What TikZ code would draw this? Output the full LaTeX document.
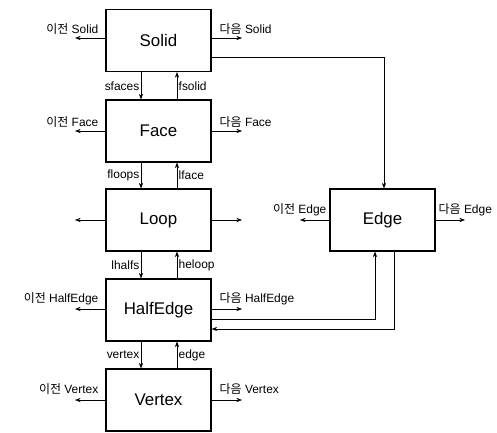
\documentclass[tikz,border=0pt]{standalone}
\usepackage{fontspec}
\setmainfont{Liberation Sans}
\newfontfamily\kr{Noto Sans CJK KR}
\usetikzlibrary{calc,arrows.meta}
\tikzset{
  block/.style={draw,thick,minimum width=2.625cm,minimum height=1.55cm,font=\fontsize{12}{14}\selectfont},
  lbl/.style={font=\fontsize{8.5}{10}\selectfont,inner sep=1pt},
  arr/.style={-{Stealth[length=4pt,width=3pt]},thin},
}
\begin{document}
\begin{tikzpicture}[x=0.025cm,y=-0.025cm]
	\useasboundingbox (0,0) rectangle (497,432);
	% main blocks
	\node[block] (solid) at (158.5,40.5) {Solid};
	\node[block] (face)  at (158.5,131)  {Face};
	\node[block] (loop)  at (158.5,220)  {Loop};
	\node[block] (half)  at (158.5,310)  {HalfEdge};
	\node[block] (vert)  at (158.5,400)  {Vertex};
	\node[block] (edge)  at (382.5,220)  {Edge};
	% free ends of the side links
	\coordinate (ps) at (75,38);   \coordinate (ns) at (242,38);
	\coordinate (pf) at (75,131);  \coordinate (nf) at (242,131);
	\coordinate (pl) at (75,220);  \coordinate (nl) at (242,220);
	\coordinate (ph) at (75,309);  \coordinate (nh) at (242,309);
	\coordinate (pv) at (75,400);  \coordinate (nv) at (242,400);
	\coordinate (pe) at (300,220); \coordinate (ne) at (465,220);
	\draw[arr] (solid.west |- ps) -- (ps);
	\draw[arr] (solid.east |- ns) -- (ns);
	\draw[arr] (face.west) -- (pf);
	\draw[arr] (face.east) -- (nf);
	\draw[arr] (loop.west) -- (pl);
	\draw[arr] (loop.east) -- (nl);
	\draw[arr] (half.west |- ph) -- (ph);
	\draw[arr] (half.east |- nh) -- (nh);
	\draw[arr] (vert.west) -- (pv);
	\draw[arr] (vert.east) -- (nv);
	\draw[arr] (edge.west) -- (pe);
	\draw[arr] (edge.east) -- (ne);
	\node[lbl,anchor=south east] (lps) at (100,36)  {{\kr 이전} Solid};
	\node[lbl,anchor=south west] (lns) at (218,36)  {{\kr 다음} Solid};
	\node[lbl,anchor=south east] (lpf) at (100,129) {{\kr 이전} Face};
	\node[lbl,anchor=south west] (lnf) at (218,129) {{\kr 다음} Face};
	\node[lbl,anchor=south east] (lph) at (100,307) {{\kr 이전} HalfEdge};
	\node[lbl,anchor=south west] (lnh) at (218,307) {{\kr 다음} HalfEdge};
	\node[lbl,anchor=south east] (lpv) at (100,396) {{\kr 이전} Vertex};
	\node[lbl,anchor=south west] (lnv) at (218,396) {{\kr 다음} Vertex};
	\node[lbl,anchor=south east] (lpe) at (328,218) {{\kr 이전} Edge};
	\node[lbl,anchor=south west] (lne) at (437,218) {{\kr 다음} Edge};
	% links between the blocks
	\draw[arr] ($(solid.south)+(-17.5,0)$) -- node[lbl,left] {sfaces} ($(face.north)+(-17.5,0)$);
	\draw[arr] ($(face.north)+(18.5,0)$) -- node[lbl,right] {fsolid} ($(solid.south)+(18.5,0)$);
	\draw[arr] ($(face.south)+(-17.5,0)$) -- node[lbl,left] {floops} ($(loop.north)+(-17.5,0)$);
	\draw[arr] ($(loop.north)+(18.5,0)$) -- node[lbl,right] {lface} ($(face.south)+(18.5,0)$);
	\draw[arr] ($(loop.south)+(-17.5,0)$) -- node[lbl,left] {lhalfs} ($(half.north)+(-17.5,0)$);
	\draw[arr] ($(half.north)+(18.5,0)$) -- node[lbl,right] {heloop} ($(loop.south)+(18.5,0)$);
	\draw[arr] ($(half.south)+(-17.5,0)$) -- node[lbl,left] {vertex} ($(vert.north)+(-17.5,0)$);
	\draw[arr] ($(vert.north)+(18.5,0)$) -- node[lbl,right] {edge} ($(half.south)+(18.5,0)$);
	% links to the edge block
	\draw[arr] ($(solid.east)+(0,16.5)$) -| ($(edge.north)+(1.5,0)$);
	\draw[arr] ($(half.east)+(0,9)$) -| ($(edge.south)+(-7.5,0)$);
	\draw[arr] ($(edge.south)+(11.5,0)$) |- ($(half.east)+(0,19)$);
\end{tikzpicture}
\end{document}
